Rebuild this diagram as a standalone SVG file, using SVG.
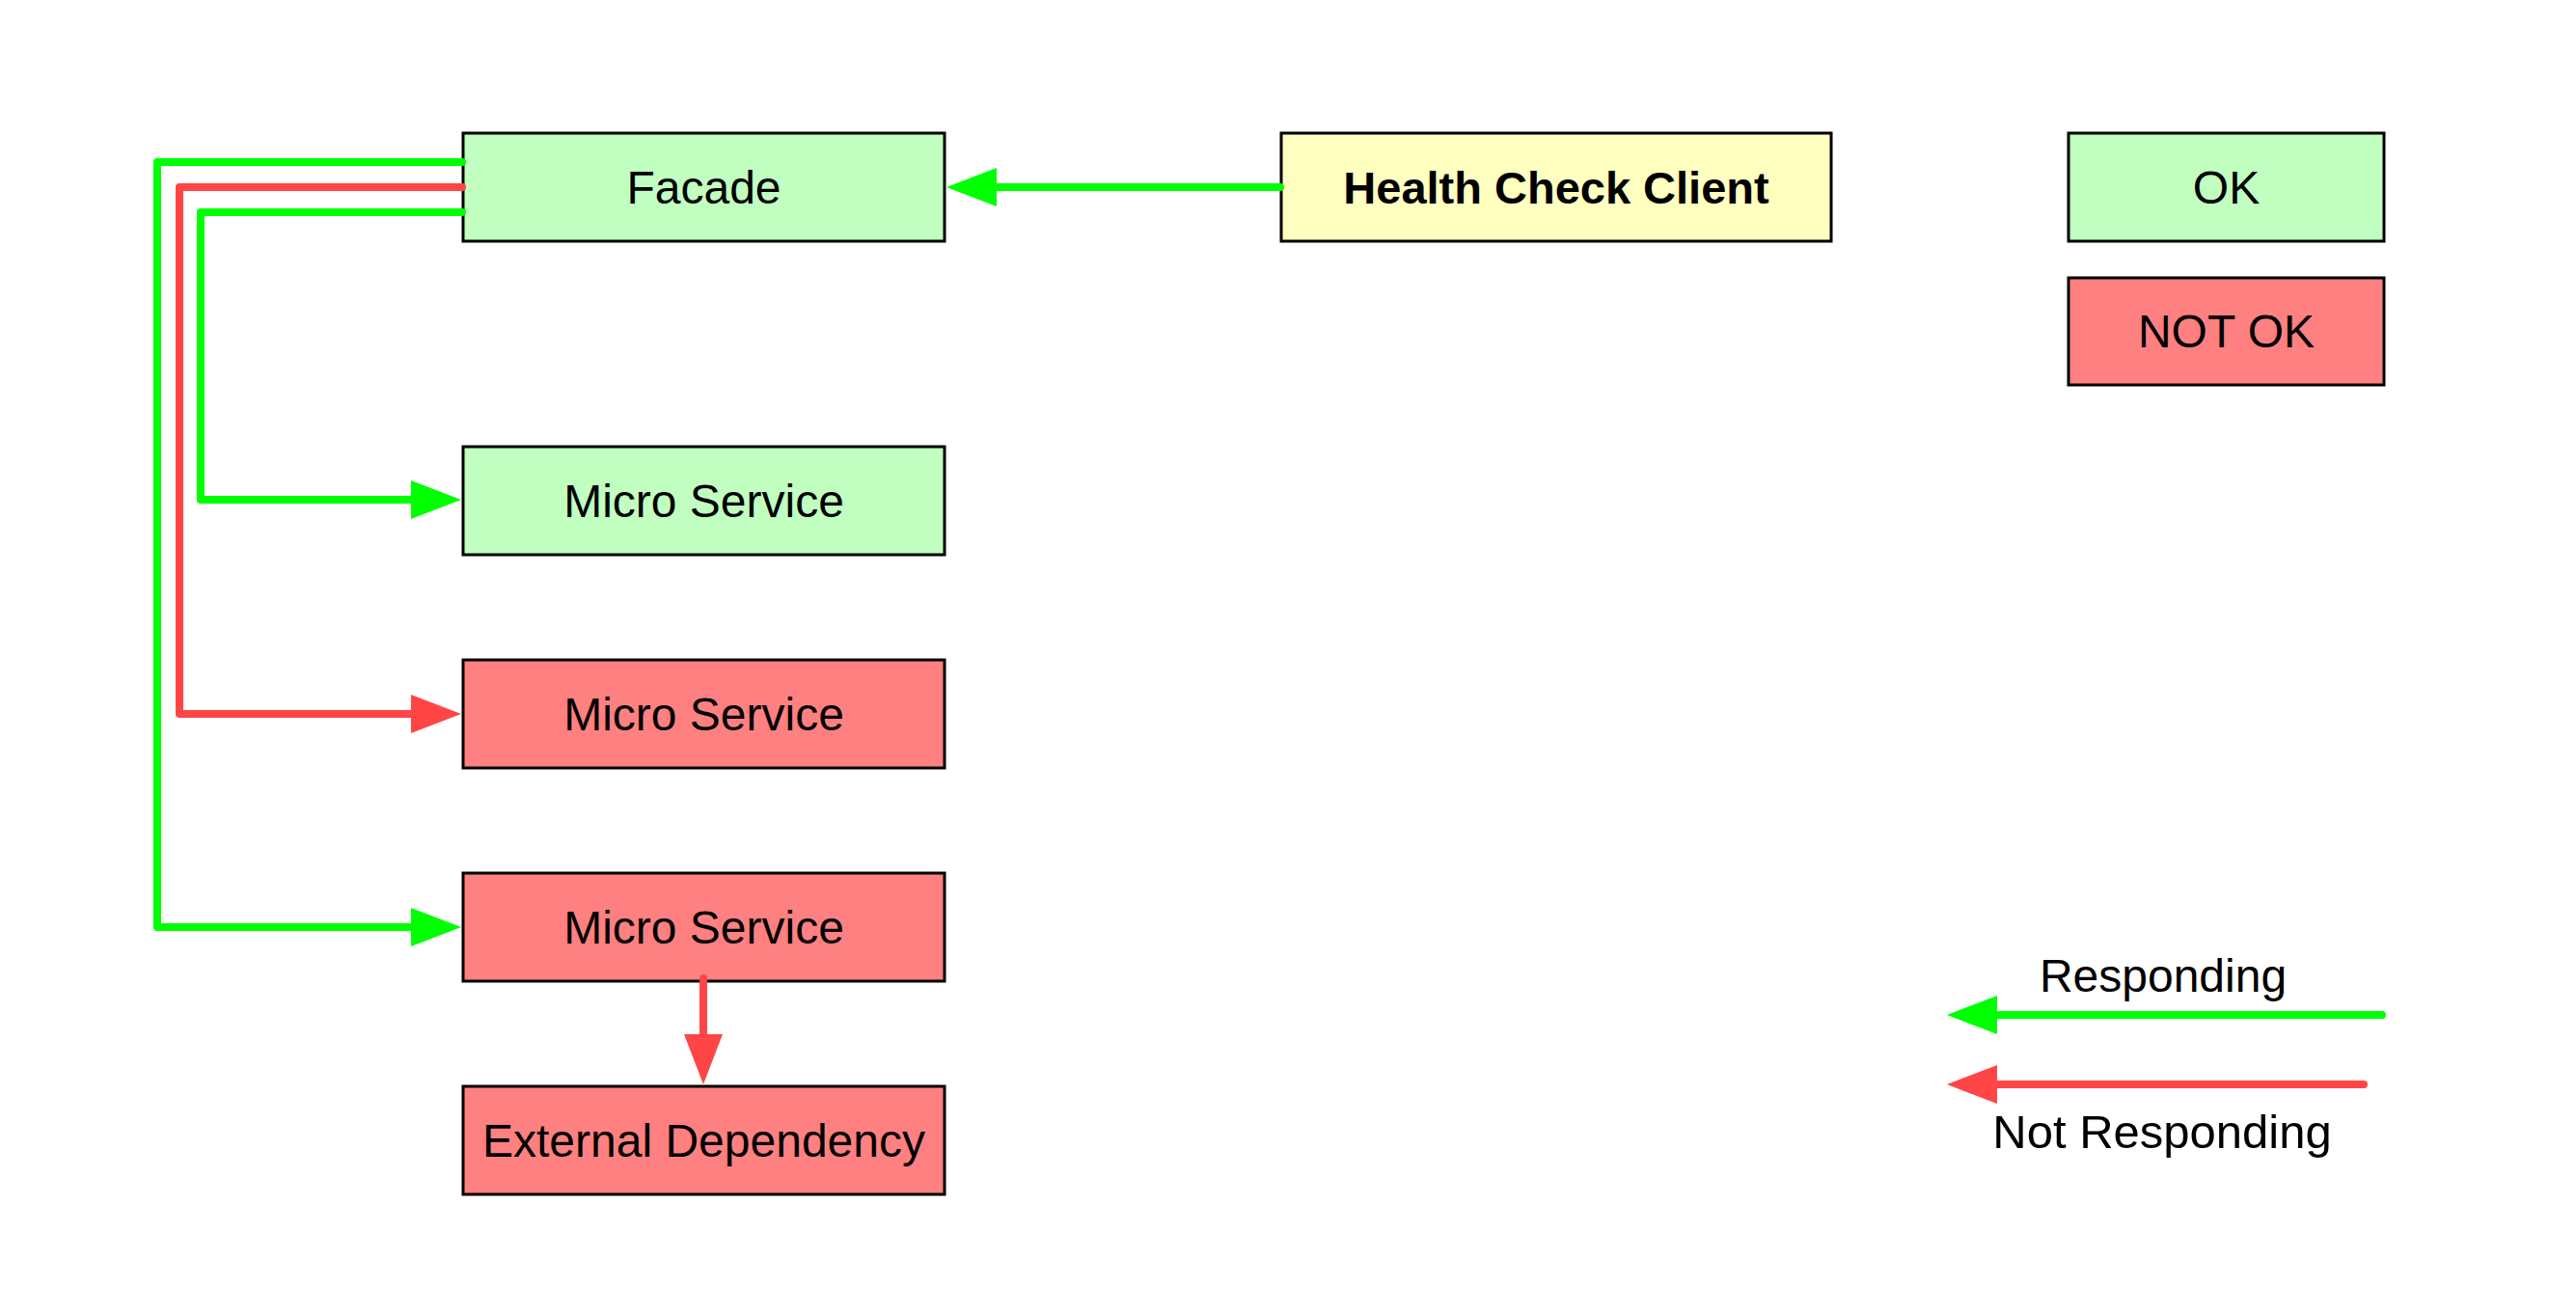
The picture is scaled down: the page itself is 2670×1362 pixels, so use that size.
<svg xmlns="http://www.w3.org/2000/svg" width="2670" height="1362" viewBox="0 0 2670 1362">
<style>
.box{stroke:#000;stroke-width:3}
.ok{fill:#C0FFC0}
.bad{fill:#FF8080}
.client{fill:#FFFFC0}
.lbl{font-family:"Liberation Sans",Arial,Helvetica,sans-serif;font-size:48px;fill:#000;text-anchor:middle}
.bold{font-weight:bold;font-size:47px}
.leg{font-size:48px}
.leg2{font-size:49px}
.g{stroke:#00FF00;stroke-width:8;fill:none;stroke-linecap:round;stroke-linejoin:round}
.r{stroke:#FF4545;stroke-width:8;fill:none;stroke-linecap:round;stroke-linejoin:round}
</style>
<defs>
<marker id="ag" markerUnits="userSpaceOnUse" markerWidth="52" markerHeight="40" refX="30" refY="20" orient="auto">
<path d="M0,0 L52,20 L0,40 z" fill="#00FF00"/>
</marker>
<marker id="ar" markerUnits="userSpaceOnUse" markerWidth="52" markerHeight="40" refX="30" refY="20" orient="auto">
<path d="M0,0 L52,20 L0,40 z" fill="#FF4545"/>
</marker>
</defs>
<rect width="2670" height="1362" fill="#fff"/>
<g id="facade"><rect class="box ok" x="480" y="138" width="499" height="112"/><text class="lbl" x="729.5" y="211">Facade</text></g>
<g id="health-check-client"><rect class="box client" x="1328" y="138" width="570" height="112"/><text class="lbl bold" x="1613" y="211">Health Check Client</text></g>
<g id="legend-ok"><rect class="box ok" x="2144" y="138" width="327" height="112"/><text class="lbl" x="2307.5" y="211">OK</text></g>
<g id="legend-notok"><rect class="box bad" x="2144" y="288" width="327" height="111"/><text class="lbl" x="2307.5" y="360">NOT OK</text></g>
<g id="micro-service-1"><rect class="box ok" x="480" y="463" width="499" height="112"/><text class="lbl" x="729.5" y="536">Micro Service</text></g>
<g id="micro-service-2"><rect class="box bad" x="480" y="684" width="499" height="112"/><text class="lbl" x="729.5" y="757">Micro Service</text></g>
<g id="micro-service-3"><rect class="box bad" x="480" y="905" width="499" height="112"/><text class="lbl" x="729.5" y="978">Micro Service</text></g>
<g id="external-dependency"><rect class="box bad" x="480" y="1126" width="499" height="112"/><text class="lbl" x="729.5" y="1199">External Dependency</text></g>
<g id="connectors">
<path class="g" d="M479,168 L163,168 L163,961 L456,961" marker-end="url(#ag)"/>
<path class="r" d="M479,194 L186,194 L186,740 L456,740" marker-end="url(#ar)"/>
<path class="g" d="M479,220 L208,220 L208,518 L456,518" marker-end="url(#ag)"/>
<path class="g" d="M1327,194 L1003,194" marker-end="url(#ag)"/>
<path class="r" d="M729,1014 L729,1102" marker-end="url(#ar)"/>
</g>
<g id="legend-arrows">
<path class="g" d="M2469,1052 L2040,1052" marker-end="url(#ag)"/>
<path class="r" d="M2450,1124 L2040,1124" marker-end="url(#ar)"/>
<text class="lbl leg" x="2242" y="1028">Responding</text>
<text class="lbl leg2" x="2241" y="1190">Not Responding</text>
</g>
</svg>
